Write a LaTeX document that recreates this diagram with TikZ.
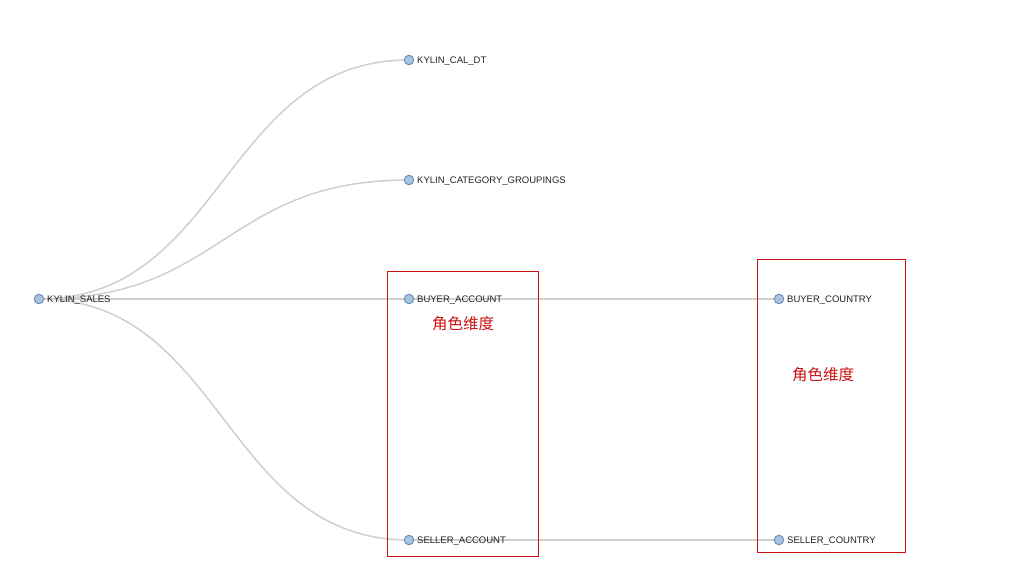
\documentclass[tikz,border=0pt]{standalone}
\usepackage{fontspec}
\setmainfont{Liberation Sans}
\newfontfamily\cjk{Noto Sans CJK SC}
\usetikzlibrary{backgrounds}
\definecolor{linkgray}{HTML}{CFCFCF}
\definecolor{dotfill}{HTML}{A9C3E3}
\definecolor{dotdraw}{HTML}{6F8FB5}
\definecolor{boxred}{HTML}{CC1111}
\definecolor{txt}{HTML}{222222}
\begin{document}
\begin{tikzpicture}[x=1pt,y=-1pt,
  dot/.style={circle,draw=dotdraw,fill=dotfill,line width=1pt,minimum size=9.5pt,inner sep=0pt},
  lbl/.style={anchor=west,font=\fontsize{9.5}{11}\selectfont,text=txt,inner sep=0pt,xshift=8pt,yshift=-1pt},
  link/.style={draw=linkgray,line width=1.5pt},
  redbox/.style={draw=boxred,line width=1pt},
  role/.style={font=\cjk\fontsize{15.5}{18}\selectfont,text=boxred}]
\useasboundingbox (0,0) rectangle (1035,568);
\node[dot] (sales) at (39,299) {};
\node[dot] (cal) at (409,60) {};
\node[dot] (cat) at (409,180) {};
\node[dot] (ba) at (409,299) {};
\node[dot] (sa) at (409,540) {};
\node[dot] (bc) at (779,299) {};
\node[dot] (sc) at (779,540) {};
\node[lbl] at (sales.center) {KYLIN\_SALES};
\node[lbl] at (cal.center) {KYLIN\_CAL\_DT};
\node[lbl] at (cat.center) {KYLIN\_CATEGORY\_GROUPINGS};
\node[lbl] at (ba.center) {BUYER\_ACCOUNT};
\node[lbl] at (sa.center) {SELLER\_ACCOUNT};
\node[lbl] at (bc.center) {BUYER\_COUNTRY};
\node[lbl] at (sc.center) {SELLER\_COUNTRY};
\draw[redbox] (387,271) rectangle (538,556);
\draw[redbox] (757,259) rectangle (905,552);
\node[role] (r1) at (463,324) {角色维度};
\node[role] (r2) at (823,375) {角色维度};
\begin{scope}[on background layer]
\draw[link] (sales.center) .. controls (224,299) and (224,60) .. (cal.center);
\draw[link] (sales.center) .. controls (224,299) and (224,180) .. (cat.center);
\draw[link] (sales.center) -- (ba.center);
\draw[link] (sales.center) .. controls (224,299) and (224,540) .. (sa.center);
\draw[link] (ba.center) -- (bc.center);
\draw[link] (sa.center) -- (sc.center);
\end{scope}
\end{tikzpicture}
\end{document}
